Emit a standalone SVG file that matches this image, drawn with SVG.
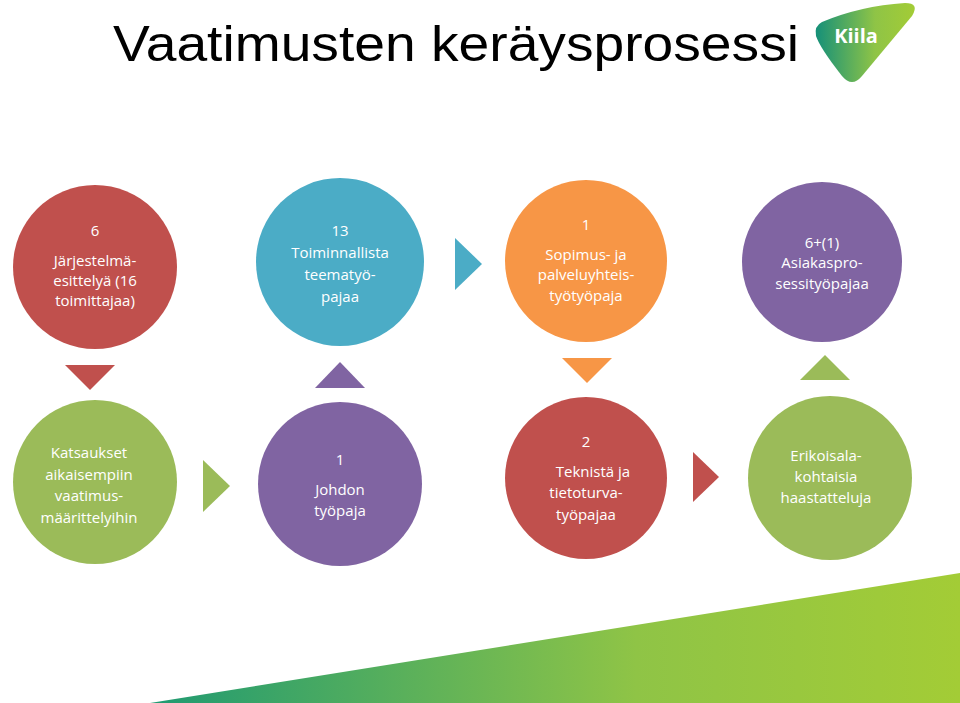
<svg xmlns="http://www.w3.org/2000/svg" width="960" height="703" viewBox="0 0 960 703">
<defs>
<linearGradient id="g1" x1="0" y1="0" x2="1" y2="0"><stop offset="0" stop-color="#1f9a72"/><stop offset="0.6" stop-color="#8fc446"/><stop offset="1" stop-color="#a3cc36"/></linearGradient>
<linearGradient id="g2" x1="0" y1="0" x2="1" y2="0"><stop offset="0" stop-color="#159079"/><stop offset="0.6" stop-color="#8fc446"/><stop offset="1" stop-color="#a3cc36"/></linearGradient>
<style>
.t{font-family:"Open Sans","Liberation Sans",sans-serif;font-size:15px;fill:#fff;text-anchor:middle}
.r{fill:#C0504D}.b{fill:#4BACC6}.o{fill:#F79646}.p{fill:#8064A2}.g{fill:#9BBB59}
</style>
</defs>
<rect width="960" height="703" fill="#fff"/>
<text x="113" y="61" textLength="686" lengthAdjust="spacingAndGlyphs" font-family="'Liberation Sans',Arial,sans-serif" font-size="50" fill="#000">Vaatimusten keräysprosessi</text>
<g id="logo"><path d="M822 22 Q860 6 905 3 Q920 3 912 16 L862 76 Q852 88 842 76 Q820 48 816 36 Q814 26 822 22Z" fill="url(#g2)"/>
<text x="856" y="43" font-family="'Open Sans',sans-serif" font-weight="bold" font-size="20" fill="#fff" text-anchor="middle">Kiila</text></g>
<polygon points="150,703 960,573 960,703" fill="url(#g1)"/>
<g id="connectors">
<polygon class="r" points="65,365 115,365 90,390"/>
<polygon class="p" points="315,388 365,388 340,362"/>
<polygon class="b" points="455,238 455,290 482,264"/>
<polygon class="o" points="562,358 612,358 587,383"/>
<polygon class="g" points="800,380 850,380 825,355"/>
<polygon class="g" points="203,460 203,512 230,486"/>
<polygon class="r" points="693,452 693,502 719,477"/>
</g>
<g id="n1"><circle class="r" cx="95" cy="267" r="82"/><text class="t"><tspan x="95" y="236">6</tspan><tspan x="95" y="266">Järjestelmä-</tspan><tspan x="95" y="286">esittelyä (16</tspan><tspan x="95" y="306">toimittajaa)</tspan></text></g>
<g id="n2"><circle class="b" cx="340" cy="262" r="84"/><text class="t"><tspan x="340" y="236">13</tspan><tspan x="340" y="258">Toiminnallista</tspan><tspan x="340" y="280">teematyö-</tspan><tspan x="340" y="302">pajaa</tspan></text></g>
<g id="n3"><circle class="o" cx="586" cy="261" r="81"/><text class="t"><tspan x="586" y="230">1</tspan><tspan x="586" y="260">Sopimus- ja</tspan><tspan x="586" y="280">palveluyhteis-</tspan><tspan x="586" y="301">työtyöpaja</tspan></text></g>
<g id="n4"><circle class="p" cx="822" cy="262" r="80"/><text class="t"><tspan x="822" y="248">6+(1)</tspan><tspan x="822" y="268">Asiakaspro-</tspan><tspan x="822" y="289">sessityöpajaa</tspan></text></g>
<g id="n5"><circle class="g" cx="95" cy="482" r="82"/><text class="t"><tspan x="89" y="458">Katsaukset</tspan><tspan x="89" y="480">aikaisempiin</tspan><tspan x="89" y="501">vaatimus-</tspan><tspan x="89" y="523">määrittelyihin</tspan></text></g>
<g id="n6"><circle class="p" cx="340" cy="484" r="82"/><text class="t"><tspan x="340" y="465">1</tspan><tspan x="340" y="495">Johdon</tspan><tspan x="340" y="516">työpaja</tspan></text></g>
<g id="n7"><circle class="r" cx="586" cy="478" r="81"/><text class="t"><tspan x="586" y="447">2</tspan><tspan x="593" y="477">Teknistä ja</tspan><tspan x="586" y="498">tietoturva-</tspan><tspan x="586" y="520">työpajaa</tspan></text></g>
<g id="n8"><circle class="g" cx="830" cy="478" r="82"/><text class="t"><tspan x="826" y="461">Erikoisala-</tspan><tspan x="826" y="482">kohtaisia</tspan><tspan x="826" y="503">haastatteluja</tspan></text></g>
</svg>
